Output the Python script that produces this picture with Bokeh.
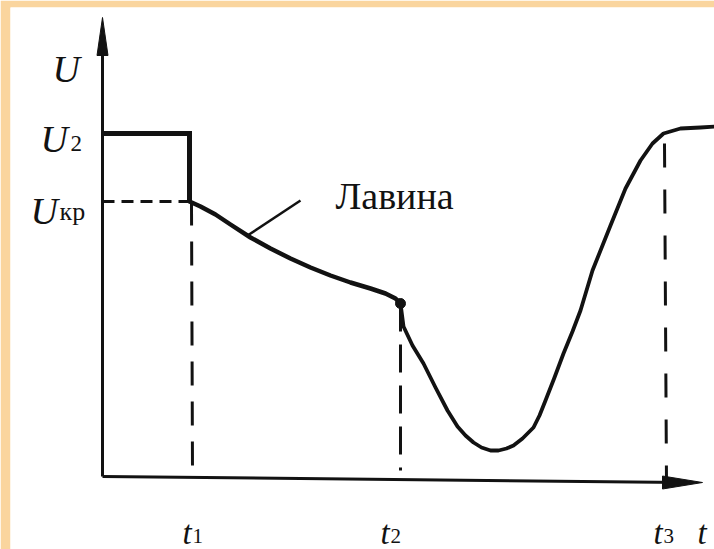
from bokeh.plotting import figure
from bokeh.models import Range1d
from bokeh.core.properties import value
from bokeh.embed import file_html
from bokeh.resources import INLINE

# ---------------- data (arbitrary units) ----------------
t_marks = [0.87, 2.98, 5.61]          # t1, t2, t3
t_subs = ["1", "2", "3"]
U2 = 3.43
Ukr = 2.75

# step: U2 level until t1, then drop to Ukr
step_t = [0.0, 0.87, 0.87]
step_u = [3.43, 3.43, 2.75]

# avalanche branch t1 -> t2
aval_t = [0.87, 0.98, 1.13, 1.28, 1.48, 1.68, 1.88, 2.08, 2.28, 2.48, 2.68, 2.83, 2.93, 2.98]
aval_u = [2.75, 2.70, 2.62, 2.52, 2.39, 2.28, 2.18, 2.09, 2.01, 1.94, 1.88, 1.83, 1.78, 1.73]

# fall and recovery t2 -> end
rec_t = [2.98, 3.01, 3.10, 3.21, 3.33, 3.45, 3.55, 3.63, 3.71, 3.79, 3.88, 3.96, 4.04,
         4.11, 4.20, 4.31, 4.37, 4.43, 4.52, 4.61, 4.70, 4.78, 4.90, 5.08, 5.23, 5.38,
         5.50, 5.61, 5.78, 5.98, 6.14]
rec_u = [1.73, 1.50, 1.31, 1.13, 0.89, 0.66, 0.50, 0.41, 0.34, 0.29, 0.26, 0.26, 0.28,
         0.31, 0.38, 0.49, 0.61, 0.76, 0.99, 1.23, 1.45, 1.66, 2.06, 2.51, 2.88, 3.16,
         3.33, 3.43, 3.48, 3.49, 3.50]

label_text = "Лавина"

# ---------------- figure ----------------
INK = "#121212"
PEACH = "#fad59e"
p = figure(width=714, height=549, x_range=Range1d(-0.92, 6.12), y_range=Range1d(-0.73, 4.69),
           output_backend="svg", toolbar_location=None,
           min_border_left=10, min_border_top=7, min_border_right=0, min_border_bottom=0,
           x_axis_type=None, y_axis_type=None)
p.grid.visible = False
p.outline_line_color = None
p.background_fill_color = "white"
p.border_fill_color = PEACH

# axes (drawn as arrows)
y_tip = 4.59
x_tip = 6.00
x_end_u = -0.06
p.line([0, 0], [0, y_tip - 0.2], line_width=3, line_color=INK)
p.line([0, x_tip - 0.2], [0, x_end_u], line_width=3, line_color=INK)
p.patch([0, -0.055, 0.055], [y_tip, y_tip - 0.38, y_tip - 0.38], color=INK)
p.patch([x_tip, x_tip - 0.40, x_tip - 0.40], [x_end_u, x_end_u + 0.065, x_end_u - 0.065], color=INK)

# dashed guides
t1, t2, t3 = t_marks
i_t3 = rec_t.index(t3)
p.line([0, t1], [Ukr, Ukr], line_width=3, line_color=INK, line_dash="12 7")
p.line([t1 + 0.02, t1 + 0.03], [Ukr, 0.06], line_width=3, line_color=INK, line_dash="24 16")
p.line([t2, t2], [aval_u[-1], 0.06], line_width=3, line_color=INK, line_dash="28 13")
p.line([t3 + 0.01, t3 + 0.03], [rec_u[i_t3] - 0.10, -0.07], line_width=3, line_color=INK,
       line_dash="24 22")

# curves
p.line(step_t, step_u, line_width=5, line_color=INK, line_join="miter")
p.line(aval_t, aval_u, line_width=4.5, line_color=INK, line_join="round", line_cap="round")
p.line(rec_t, rec_u, line_width=3.8, line_color=INK, line_join="round", line_cap="round")
p.scatter([t2], [aval_u[-1]], size=10, color=INK)

# leader line and label
p.line([aval_t[4] - 0.03, aval_t[4] + 0.50], [aval_u[4] + 0.02, aval_u[4] + 0.37],
       line_width=2.5, line_color=INK)
p.text(x=[2.33], y=[2.81], text=[label_text], text_font=value("Liberation Serif"),
       text_font_size="38px", text_color=INK, text_baseline="alphabetic", text_align="left")

# axis symbols
ital = dict(text_font=value("Liberation Serif"), text_font_style="italic",
            text_color=INK, text_baseline="alphabetic", text_align="left")
sub = dict(text_font=value("Liberation Serif"), text_color=INK,
           text_baseline="alphabetic", text_align="left")

p.text(x=[-0.50, -0.62, -0.72], y=[4.08, U2 - 0.05, Ukr - 0.09], text=["U", "U", "U"],
       text_font_size="38px", **ital)
p.text(x=[-0.32], y=[U2 - 0.10], text=["2"], text_font_size="23px", **sub)
p.text(x=[-0.43], y=[Ukr - 0.10], text=["кр"], text_font_size="26px", **sub)

t_lab_x = [t1 - 0.07, t2 - 0.20, t3 - 0.10]
p.text(x=t_lab_x + [5.95], y=[-0.56, -0.56, -0.56, -0.56], text=["t", "t", "t", "t"],
       text_font_size="33px", **ital)
p.text(x=[x + 0.10 for x in t_lab_x], y=[-0.59, -0.59, -0.59], text=t_subs,
       text_font_size="21px", **sub)

open("out.html", "w").write(file_html(p, INLINE))
